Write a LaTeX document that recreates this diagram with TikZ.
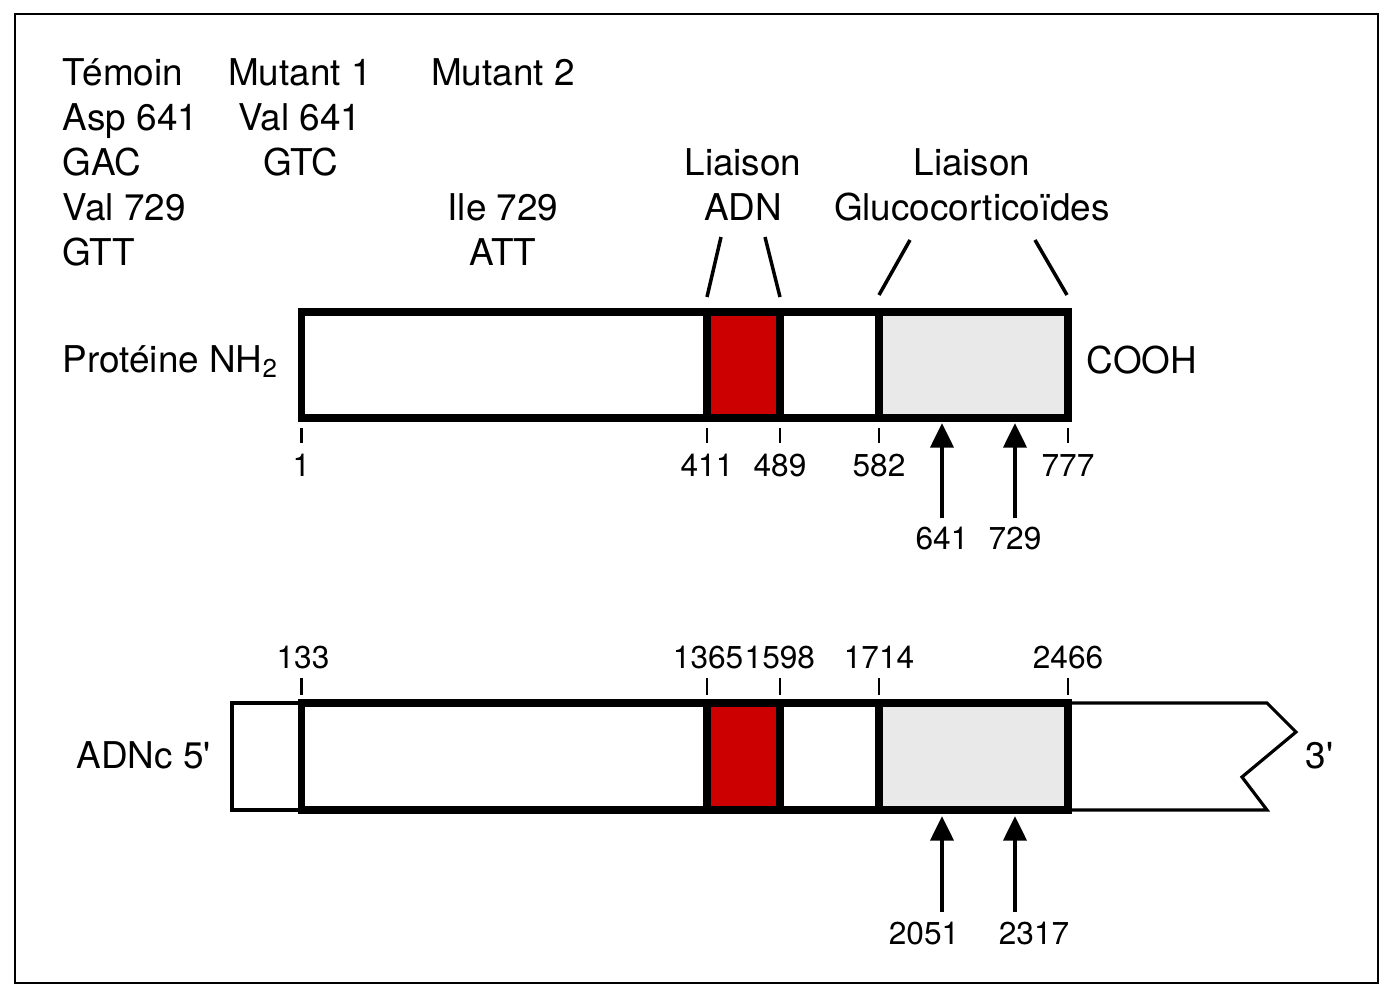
\documentclass[tikz,border=0pt]{standalone}
\usepackage{fontspec}
\setmainfont{TeX Gyre Heros}
\usetikzlibrary{arrows.meta}

\definecolor{dbdred}{HTML}{CC0000}
\definecolor{lbdgray}{HTML}{E9E9E9}

\tikzset{
    txt/.style={font=\fontsize{10.5}{12}\selectfont, inner sep=0pt},
    num/.style={font=\fontsize{9}{11}\selectfont, inner sep=0pt},
    outerframe/.style={line width=0.8pt},
    domainbox/.style={line width=2pt},
    thinline/.style={line width=0.9pt, line join=miter},
    tickline/.style={line width=0.6pt},
    slantline/.style={line width=1pt},
    mutation/.style={line width=1.2pt, -{Triangle[length=7pt, width=6.5pt]}}
}

\begin{document}
\begin{tikzpicture}
        \useasboundingbox (0,0) rectangle (13.96,-10.04);
        \draw[outerframe] (0.15,-0.14) rectangle (13.78,-9.83);

        % Text columns
        \node[txt, anchor=base west] (tem) at (0.62,-0.85) {Témoin};
        \node[txt, anchor=base west] (asp) at (0.62,-1.30) {Asp 641};
        \node[txt, anchor=base west] (gac) at (0.62,-1.75) {GAC};
        \node[txt, anchor=base west] (val) at (0.62,-2.20) {Val 729};
        \node[txt, anchor=base west] (gtt) at (0.62,-2.65) {GTT};
        \node[txt, anchor=base] (mutA) at (3.00,-0.85) {Mutant 1};
        \node[txt, anchor=base] (valA) at (3.00,-1.30) {Val 641};
        \node[txt, anchor=base] (gtc) at (3.01,-1.75) {GTC};
        \node[txt, anchor=base] (mutB) at (5.03,-0.85) {Mutant 2};
        \node[txt, anchor=base] (ile) at (5.03,-2.20) {Ile 729};
        \node[txt, anchor=base] (att) at (5.03,-2.65) {ATT};

        % Domain labels
        \node[txt, anchor=base] (liaA) at (7.43,-1.75) {Liaison};
        \node[txt, anchor=base] (adn) at (7.43,-2.20) {ADN};
        \node[txt, anchor=base] (liaB) at (9.72,-1.75) {Liaison};
        \node[txt, anchor=base] (gluco) at (9.72,-2.20) {Glucocorticoïdes};

        \draw[slantline] (7.07,-2.97) -- (7.21,-2.37);
        \draw[slantline] (7.80,-2.97) -- (7.65,-2.37);
        \draw[slantline] (8.79,-2.95) -- (9.10,-2.40);
        \draw[slantline] (10.67,-2.95) -- (10.35,-2.40);

        % Protein
        \node[txt, anchor=base west] (prot) at (0.62,-3.72) {Protéine NH\textsubscript{2}};
        \node[txt, anchor=base west] (cooh) at (10.86,-3.73) {COOH};
        \fill[dbdred] (7.07,-3.12) rectangle (7.80,-4.18);
        \fill[lbdgray] (8.79,-3.12) rectangle (10.68,-4.18);
        \draw[domainbox] (3.015,-3.12) rectangle (10.68,-4.18);
        \draw[domainbox] (7.07,-3.12) -- (7.07,-4.18);
        \draw[domainbox] (7.80,-3.12) -- (7.80,-4.18);
        \draw[domainbox] (8.79,-3.12) -- (8.79,-4.18);

        \draw[tickline] (3.015,-4.28) -- (3.015,-4.43);
        \draw[tickline] (7.07,-4.28) -- (7.07,-4.43);
        \draw[tickline] (7.80,-4.28) -- (7.80,-4.43);
        \draw[tickline] (8.79,-4.28) -- (8.79,-4.43);
        \draw[tickline] (10.68,-4.28) -- (10.68,-4.43);
        \node[num, anchor=base] (p1) at (3.015,-4.76) {1};
        \node[num, anchor=base] (p411) at (7.07,-4.76) {411};
        \node[num, anchor=base] (p489) at (7.80,-4.76) {489};
        \node[num, anchor=base] (p582) at (8.79,-4.76) {582};
        \node[num, anchor=base] (p777) at (10.68,-4.76) {777};

        % Protein mutations
        \node[num, anchor=base] (m641) at (9.42,-5.49) {641};
        \node[num, anchor=base] (m729) at (10.15,-5.49) {729};
        \coordinate (a641) at (9.42,-4.23);
        \coordinate (a729) at (10.15,-4.23);
        \draw[mutation] (9.42,-5.18) -- (a641);
        \draw[mutation] (10.15,-5.18) -- (a729);

        % cDNA
        \node[txt, anchor=base west] (adnc) at (0.76,-7.68) {ADNc 5\textquotesingle};
        \node[txt, anchor=base west] (three) at (13.05,-7.68) {3\textquotesingle};
        \draw[thinline] (3.015,-7.03) -- (2.32,-7.03) -- (2.32,-8.10) -- (3.015,-8.10);
        \draw[thinline] (10.68,-7.03) -- (12.67,-7.03) -- (12.96,-7.32)
            -- (12.42,-7.77) -- (12.67,-8.10) -- (10.68,-8.10);
        \fill[dbdred] (7.07,-7.03) rectangle (7.80,-8.10);
        \fill[lbdgray] (8.79,-7.03) rectangle (10.68,-8.10);
        \draw[domainbox] (3.015,-7.03) rectangle (10.68,-8.10);
        \draw[domainbox] (7.07,-7.03) -- (7.07,-8.10);
        \draw[domainbox] (7.80,-7.03) -- (7.80,-8.10);
        \draw[domainbox] (8.79,-7.03) -- (8.79,-8.10);

        \draw[tickline] (3.015,-6.78) -- (3.015,-6.95);
        \draw[tickline] (7.07,-6.78) -- (7.07,-6.95);
        \draw[tickline] (7.80,-6.78) -- (7.80,-6.95);
        \draw[tickline] (8.79,-6.78) -- (8.79,-6.95);
        \draw[tickline] (10.68,-6.78) -- (10.68,-6.95);
        \node[num, anchor=base] (n133) at (3.03,-6.68) {133};
        \node[num, anchor=base east] (n1365) at (7.44,-6.68) {1365};
        \node[num, anchor=base west] (n1598) at (7.44,-6.68) {1598};
        \node[num, anchor=base] (n1714) at (8.79,-6.68) {1714};
        \node[num, anchor=base] (n2466) at (10.68,-6.68) {2466};

        % cDNA mutations
        \node[num, anchor=base] (m2051) at (9.24,-9.44) {2051};
        \node[num, anchor=base] (m2317) at (10.34,-9.44) {2317};
        \coordinate (a2051) at (9.42,-8.16);
        \coordinate (a2317) at (10.15,-8.16);
        \draw[mutation] (9.42,-9.12) -- (a2051);
        \draw[mutation] (10.15,-9.12) -- (a2317);
    \end{tikzpicture}
\end{document}
